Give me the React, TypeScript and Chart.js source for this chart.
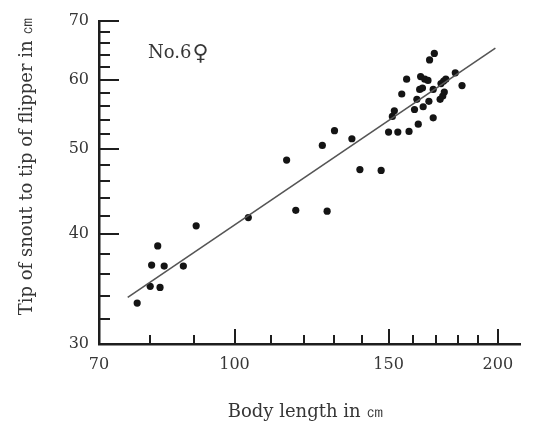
import React, { useEffect, useRef } from "react";
import { Chart, registerables } from "chart.js";

Chart.register(...registerables);

// Body length (cm) and tip of snout to tip of flipper (cm)
const bodyLength = [
  77.4, 80.1, 82.2, 80.4, 83.1, 81.7, 87.4, 90.4, 103.7,
  114.7, 117.5, 127.6, 126.0, 130.1, 136.2, 139.1, 147.1,
  150.0, 153.7, 158.3, 151.5, 152.3, 155.3, 157.3, 160.6, 162.2, 161.6,
  164.3, 166.8, 162.8, 164.0, 163.2, 165.0, 166.4, 167.1, 169.2, 168.7,
  168.7, 171.8, 173.0, 173.7, 172.2, 173.4, 174.4, 178.8, 182.0,
];
const flipperLength = [
  33.4, 34.9, 34.8, 36.9, 36.8, 38.8, 36.8, 40.9, 41.8,
  48.6, 42.6, 42.5, 50.5, 52.5, 51.4, 47.4, 47.3,
  52.3, 52.3, 52.4, 54.5, 55.3, 57.8, 60.1, 55.5, 53.4, 57.0,
  55.9, 56.7, 58.5, 58.7, 60.5, 60.1, 59.9, 63.2, 64.3, 58.5,
  54.3, 57.0, 57.5, 58.1, 59.4, 59.8, 60.1, 61.1, 59.1,
];

// Fitted line endpoints
const fitBody = [75.5, 198.7];
const fitFlipper = [33.9, 65.2];

const xMajorTicks = [70, 100, 150, 200];
const xMinorTicks = [80, 90, 110, 120, 130, 140, 160, 170, 180, 190];
const yMajorTicks = [30, 40, 50, 60, 70];
const yMinorTicks = [32, 34, 36, 38, 42, 44, 46, 48, 52, 54, 56, 58, 62, 64, 66, 68];

const xTitle = "Body length in ㎝";
const yTitle = "Tip of snout to tip of flipper in ㎝";
const annotation = "No.6";
const annotationSymbol = "♀";

const FONT = '"DejaVu Serif", "Liberation Serif", serif';
const TEXT = "#363636";
const INK = "#1e1e1e";

const decorPlugin = {
  id: "decor",
  afterDraw(chart: any) {
    const { ctx, chartArea, scales } = chart;
    const xs = scales.x;
    const ys = scales.y;
    ctx.save();
    ctx.strokeStyle = INK;
    ctx.lineWidth = 2;
    ctx.lineCap = "butt";
    // inward ticks on y axis
    const left = chartArea.left;
    const bottom = chartArea.bottom;
    const drawY = (v: number, len: number) => {
      const py = Math.round(ys.getPixelForValue(v));
      ctx.beginPath();
      ctx.moveTo(left, py);
      ctx.lineTo(left + len, py);
      ctx.stroke();
    };
    yMajorTicks.forEach((v) => drawY(v, 20));
    yMinorTicks.forEach((v) => drawY(v, 11));
    const drawX = (v: number, len: number) => {
      const px = Math.round(xs.getPixelForValue(v));
      ctx.beginPath();
      ctx.moveTo(px, bottom);
      ctx.lineTo(px, bottom - len);
      ctx.stroke();
    };
    xMajorTicks.forEach((v) => drawX(v, 15));
    xMinorTicks.forEach((v) => drawX(v, 9));

    // titles
    ctx.fillStyle = TEXT;
    ctx.font = `18px ${FONT}`;
    ctx.textAlign = "center";
    ctx.textBaseline = "alphabetic";
    ctx.fillText(xTitle, 306, 417);

    ctx.save();
    ctx.translate(32, 166);
    ctx.rotate(-Math.PI / 2);
    ctx.fillText(yTitle, 0, 0);
    ctx.restore();

    ctx.textAlign = "left";
    ctx.fillText(annotation, 148, 58);
    const w = ctx.measureText(annotation).width;
    ctx.font = `22px ${FONT}`;
    ctx.fillText(annotationSymbol, 148 + w + 1, 60);
    ctx.restore();
  },
};

export default function App() {
  const ref = useRef<HTMLCanvasElement | null>(null);

  useEffect(() => {
    if (!ref.current) return;
    const points = bodyLength.map((b, i) => ({ x: b, y: flipperLength[i] }));
    const fit = fitBody.map((b, i) => ({ x: b, y: fitFlipper[i] }));
    const chart = new Chart(ref.current, {
      type: "scatter",
      data: {
        datasets: [
          {
            label: "fit",
            data: fit,
            showLine: true,
            borderColor: "#555555",
            borderWidth: 1.6,
            pointRadius: 0,
            fill: false,
          },
          {
            label: "No.6",
            data: points,
            pointRadius: 3.6,
            pointBackgroundColor: "#141414",
            pointBorderWidth: 0,
            showLine: false,
          },
        ],
      },
      plugins: [decorPlugin],
      options: {
        responsive: false,
        animation: false,
        events: [],
        layout: { padding: { top: 21, right: 17, left: 0, bottom: 0 } },
        plugins: {
          legend: { display: false },
          tooltip: { enabled: false },
        },
        scales: {
          x: {
            type: "logarithmic",
            min: 70,
            max: 212,
            afterBuildTicks: (scale: any) => {
              scale.ticks = xMajorTicks.map((v) => ({ value: v }));
            },
            afterFit: (scale: any) => {
              scale.height = 94;
            },
            grid: { display: false, drawTicks: false },
            border: { display: true, color: INK, width: 2.5 },
            ticks: {
              autoSkip: false,
              maxRotation: 0,
              padding: 11,
              color: TEXT,
              font: { family: FONT, size: 16 },
              callback: (v: any) => String(v),
            },
          },
          y: {
            type: "logarithmic",
            min: 30,
            max: 70,
            afterBuildTicks: (scale: any) => {
              scale.ticks = yMajorTicks.map((v) => ({ value: v }));
            },
            afterFit: (scale: any) => {
              scale.width = 99;
            },
            grid: { display: false, drawTicks: false },
            border: { display: true, color: INK, width: 2.5 },
            ticks: {
              autoSkip: false,
              padding: 10,
              color: TEXT,
              font: { family: FONT, size: 16 },
              callback: (v: any) => String(v),
            },
          },
        },
      } as any,
    });
    return () => chart.destroy();
  }, []);

  return (
    <div
      style={{
        position: "absolute",
        left: 0,
        top: 0,
        width: 537,
        height: 438,
        background: "#ffffff",
      }}
    >
      <canvas ref={ref} width={537} height={438} style={{ display: "block" }} />
    </div>
  );
}
